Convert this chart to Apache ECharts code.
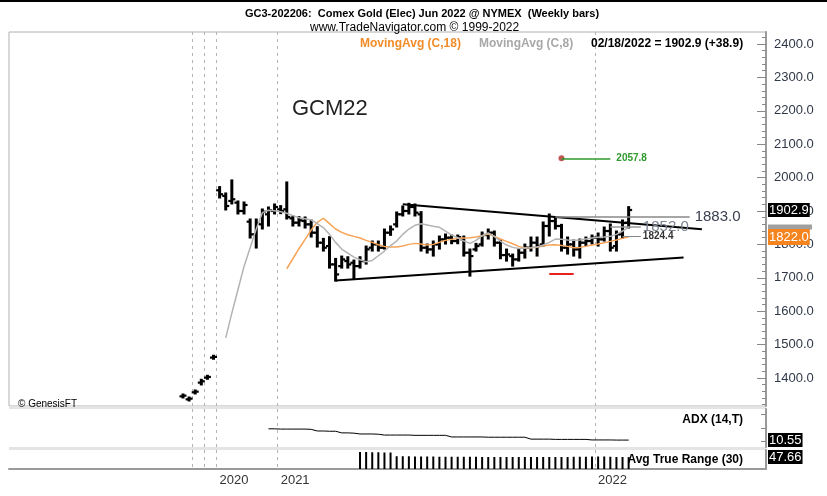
<!DOCTYPE html>
<html>
<head>
<meta charset="utf-8">
<script src="https://cdn.jsdelivr.net/npm/echarts@6/dist/echarts.min.js"></script>
<style>
  html, body { margin: 0; padding: 0; background: #fff; }
  #chart { width: 827px; height: 496px; }
</style>
</head>
<body>
<div id="chart"></div>
<script>
// weekly bars [open, high, low, close], first bar = index 0
const bars = [
  [1345,1349,1343,1347],[1336,1340,1334,1338],[1357,1361,1355,1359],[1386,1393,1382,1390],
  [1401,1405,1399,1403],[1461,1465,1459,1463],[1962,1970,1942,1950],[1945,1951,1906,1915],
  [1930,1990,1924,1935],[1925,1927,1894,1900],[1900,1924,1894,1918],[1868,1873,1822,1830],
  [1830,1873,1792,1862],[1860,1903,1849,1898],[1890,1909,1858,1902],[1900,1918,1894,1912],
  [1905,1913,1895,1900],[1905,1984,1879,1882],[1878,1882,1858,1865],[1865,1880,1858,1872],
  [1870,1879,1852,1860],[1860,1870,1825,1835],[1835,1850,1795,1805],[1805,1815,1783,1790],
  [1795,1820,1732,1740],[1740,1755,1693,1710],[1735,1762,1732,1755],[1750,1760,1732,1740],
  [1745,1750,1698,1735],[1735,1760,1732,1750],[1750,1792,1744,1785],[1790,1807,1783,1800],
  [1800,1807,1783,1790],[1790,1843,1789,1835],[1835,1852,1830,1845],[1860,1894,1855,1890],
  [1890,1912,1888,1900],[1900,1920,1894,1912],[1912,1918,1888,1895],[1890,1895,1783,1790],
  [1790,1798,1777,1785],[1785,1807,1768,1800],[1800,1822,1789,1815],[1815,1828,1804,1820],
  [1820,1825,1805,1810],[1810,1825,1805,1822],[1815,1822,1768,1775],[1775,1783,1708,1765],
  [1785,1800,1783,1795],[1800,1834,1798,1828],[1828,1843,1819,1835],[1835,1837,1798,1805],
  [1805,1810,1760,1768],[1768,1783,1753,1770],[1765,1768,1738,1755],[1755,1783,1753,1775],
  [1775,1798,1762,1790],[1790,1819,1783,1805],[1805,1819,1768,1795],[1800,1864,1798,1855],
  [1855,1888,1828,1870],[1870,1879,1849,1855],[1855,1857,1783,1790],[1790,1819,1774,1800],
  [1800,1810,1768,1785],[1785,1813,1762,1805],[1805,1819,1800,1810],[1810,1825,1804,1820],
  [1820,1831,1798,1815],[1815,1849,1813,1840],[1840,1858,1783,1790],[1795,1837,1783,1830],
  [1830,1870,1822,1864],[1865,1910,1852,1902.9]
];

const ma18Start = 17;
const ma18 = [
  1727,1757,1787,1815,1843,1866,1878,1862,1846,1836,
  1829,1824,1819,1812,1806,1799,1794,1792,1792,1795,
  1800,1803,1801,1798,1800,1806,1812,1815,1818,1819,
  1820,1822,1826,1831,1824,1816,1809,1802,1794,1789,
  1790,1792,1795,1798,1799,1797,1794,1790,1791,1794,
  1798,1801,1805,1809,1813,1818,1822
];

const ma8Start = 7;
const ma8 = [
  1520,1594,1664,1734,1790,1846,1895,1902,1901,1898,
  1893,1886,1880,1877,1873,1862,1850,1830,1806,1786,
  1774,1762,1754,1748,1752,1766,1780,1796,1810,1830,
  1846,1857,1862,1858,1854,1851,1840,1828,1820,1810,
  1803,1812,1826,1834,1824,1810,1798,1791,1788,1789,
  1790,1792,1798,1806,1816,1815,1813,1812,1813,1816,
  1819,1821,1822,1824,1830,1840,1852
];

const adxStart = 14;
const adx = [
  14.7,14.7,14.6,14.6,14.6,14.6,14.6,14.5,
  13.9,13.9,13.8,13.8,
  13.2,13.2,13.1,
  12.8,12.8,12.8,12.7,
  12.4,12.4,12.4,12.4,12.4,12.3,12.3,12.3,12.3,12.3,12.3,
  11.7,11.7,11.7,11.7,11.7,11.7,11.6,11.6,11.6,11.6,11.6,11.6,11.6,
  10.9,10.9,10.9,10.9,10.8,10.8,10.8,10.8,10.8,10.8,
  10.6,10.6,10.6,10.6,10.55,10.55,10.55
];

const atrStart = 29;
const atr = [
  68,68,67,67,66,66,
  51,51,51,50,50,50,50,49,49,49,
  49,49,49,49,48,48,48,48,48,48,
  48,48,48,48,48,48,48,48,48,49,
  49,49,50,50,50,49,48,48,47.66
];

// trend lines / levels: [barIndex, price]
const upperTrend = [[36,1920],[85,1845]];
const lowerTrend = [[25,1692],[82,1761]];
const level1883 = [[61,1883],[83,1883]];
const level1852 = [[70,1852],[75,1852]];
const level1824 = [[72,1824.4],[75,1824.4]];
const target2057 = [[62,2057.8],[70,2057.8]];
const redMark = [[60,1713],[64,1713]];

const yearLabels = [[6,'2020'],[16,'2021'],[68,'2022']];
const yearLines = [2,4,6,16,68];
const priceLabels = [1400,1500,1600,1700,1800,1900,2000,2100,2200,2300,2400];
const minorTicks = [];
for (let v = 1320; v <= 2420; v += 20) minorTicks.push(v);

const PAD = 28, NCAT = 124;
const FONT = 'Liberation Sans, Arial, sans-serif';

const cats = [];
for (let i = 0; i < NCAT; i++) cats.push(String(i - PAD));
const yearMap = {};
yearLabels.forEach(d => { yearMap[d[0] + PAD] = d[1]; });
const lineSet = yearLines.map(i => i + PAD);

const shift = pts => pts.map(p => [p[0] + PAD, p[1]]);
const fromStart = (start, arr) => arr.map((v, i) => [start + i + PAD, v]);

function renderBar(params, api) {
  const x = api.value(0);
  const o = api.coord([x, api.value(1)]);
  const h = api.coord([x, api.value(2)]);
  const l = api.coord([x, api.value(3)]);
  const c = api.coord([x, api.value(4)]);
  const tick = { stroke: '#000', lineWidth: 2.2 };
  return {
    type: 'group',
    children: [
      { type: 'line', shape: { x1: h[0], y1: h[1] - 1.5, x2: l[0], y2: l[1] + 1.5 }, style: { stroke: '#000', lineWidth: 3 } },
      { type: 'line', shape: { x1: o[0] - 3.5, y1: o[1], x2: o[0], y2: o[1] }, style: tick },
      { type: 'line', shape: { x1: c[0], y1: c[1], x2: c[0] + 3.5, y2: c[1] }, style: tick }
    ]
  };
}

function xAxisFor(g) {
  return {
    type: 'category', gridIndex: g, data: cats, boundaryGap: true,
    axisLine: { show: g === 2, lineStyle: { color: '#9a9a9a', width: 2 } },
    axisTick: { show: false },
    axisLabel: {
      show: g === 2,
      interval: (i) => yearMap[i] !== undefined,
      formatter: (v, i) => yearMap[i] || '',
      align: 'left', color: '#333', fontSize: 13, fontFamily: FONT, margin: 5
    },
    splitLine: {
      show: true,
      interval: (i) => lineSet.indexOf(i) >= 0,
      lineStyle: { color: '#b4b4b4', type: [3, 4], width: 1 }
    }
  };
}

const hiddenLine = { color: 'rgba(0,0,0,0)', width: 1 };

function boxLabel(text, bg, color) {
  return {
    show: true, position: 'end', distance: 2, formatter: text,
    backgroundColor: bg, color: color, fontSize: 13, fontFamily: FONT,
    padding: [1, 1, 0, 1]
  };
}

let options = {
  animation: false,
  backgroundColor: '#fff',
  title: [
    { text: 'GC3-202206:  Comex Gold (Elec) Jun 2022 @ NYMEX  (Weekly bars)', left: 240, top: 3,
      textStyle: { fontSize: 11, fontWeight: 'bold', color: '#000', fontFamily: FONT } },
    { text: 'www.TradeNavigator.com \u00a9 1999-2022', left: 305, top: 17,
      textStyle: { fontSize: 12, fontWeight: 'normal', color: '#000', fontFamily: FONT } },
    { text: 'MovingAvg (C,18)', left: 355, top: 33,
      textStyle: { fontSize: 12, fontWeight: 'bold', color: '#f28c28', fontFamily: FONT } },
    { text: 'MovingAvg (C,8)', left: 474, top: 33,
      textStyle: { fontSize: 12, fontWeight: 'bold', color: '#a8a8a8', fontFamily: FONT } },
    { text: '02/18/2022 = 1902.9 (+38.9)', left: 586, top: 33,
      textStyle: { fontSize: 12, fontWeight: 'bold', color: '#000', fontFamily: FONT } },
    { text: 'GCM22', left: 287, top: 93,
      textStyle: { fontSize: 22, fontWeight: 'normal', color: '#222', fontFamily: FONT } },
    { text: '\u00a9 GenesisFT', left: 13, top: 394,
      textStyle: { fontSize: 10, fontWeight: 'normal', color: '#000', fontFamily: FONT } },
    { text: 'ADX (14,T)', right: 79, top: 409,
      textStyle: { fontSize: 12, fontWeight: 'bold', color: '#000', fontFamily: FONT } },
    { text: 'Avg True Range (30)', right: 79, top: 449,
      textStyle: { fontSize: 12, fontWeight: 'bold', color: '#000', fontFamily: FONT } }
  ],
  graphic: [
    { type: 'rect', left: 0, top: 0, shape: { width: 827, height: 2 }, style: { fill: '#000' } },
    { type: 'rect', left: 9, top: 406, shape: { width: 757, height: 3 }, style: { fill: '#e4e4e4' } },
    { type: 'rect', left: 9, top: 447, shape: { width: 757, height: 3 }, style: { fill: '#e4e4e4' } }
  ],
  grid: [
    { left: 9, top: 32, width: 757, height: 374, show: true, borderColor: '#b0b0b0', borderWidth: 1 },
    { left: 9, top: 409, width: 757, height: 38, show: true, borderColor: '#d0d0d0', borderWidth: 0 },
    { left: 9, top: 450, width: 757, height: 19, show: true, borderColor: '#d0d0d0', borderWidth: 0 }
  ],
  xAxis: [xAxisFor(0), xAxisFor(1), xAxisFor(2)],
  yAxis: [
    {
      type: 'value', gridIndex: 0, position: 'right', min: 1316, max: 2436,
      axisLine: { show: true, lineStyle: { color: '#9a9a9a', width: 2 } },
      axisTick: { show: true, inside: true, length: 9, customValues: priceLabels, lineStyle: { color: '#888' } },
      axisLabel: { customValues: priceLabels, formatter: v => v.toFixed(1), color: '#2f3848',
                   fontSize: 13, fontFamily: FONT, margin: 8 },
      splitLine: { show: false }
    },
    {
      type: 'value', gridIndex: 0, position: 'right', min: 1316, max: 2436,
      axisLine: { show: false },
      axisTick: { show: true, inside: true, length: 4, customValues: minorTicks, lineStyle: { color: '#888' } },
      axisLabel: { show: false },
      splitLine: { show: false }
    },
    {
      type: 'value', gridIndex: 1, position: 'right', min: 8, max: 22,
      axisLine: { show: true, lineStyle: { color: '#9a9a9a', width: 2 } },
      axisTick: { show: true, inside: true, length: 5, customValues: [10, 15, 20], lineStyle: { color: '#888' } },
      axisLabel: { show: false },
      splitLine: { show: false }
    },
    {
      type: 'value', gridIndex: 2, position: 'right', min: 0, max: 76,
      axisLine: { show: true, lineStyle: { color: '#9a9a9a', width: 2 } },
      axisTick: { show: false },
      axisLabel: { show: false },
      splitLine: { show: false }
    }
  ],
  series: [
    {
      name: 'MovingAvg (C,18)', type: 'line', xAxisIndex: 0, yAxisIndex: 0,
      data: fromStart(ma18Start, ma18), showSymbol: false, symbol: 'none',
      lineStyle: { color: '#f7a458', width: 1.5 },
      markLine: {
        silent: true, symbol: 'none', lineStyle: hiddenLine,
        data: [
          { yAxis: 1852, label: { show: true, position: 'end', distance: 2, formatter: ' ',
              backgroundColor: '#a0a0a0', width: 44, height: 5, lineHeight: 5, fontSize: 4, padding: 0 } },
          { yAxis: 1822, label: Object.assign(boxLabel('1822.0', '#f5841f', '#fff'), { padding: [2, 1, 1, 1] }) }
        ]
      }
    },
    {
      name: 'MovingAvg (C,8)', type: 'line', xAxisIndex: 0, yAxisIndex: 0,
      data: fromStart(ma8Start, ma8), showSymbol: false, symbol: 'none',
      lineStyle: { color: '#b3b3b3', width: 1.5 }
    },
    {
      name: 'bars', type: 'custom', xAxisIndex: 0, yAxisIndex: 0,
      renderItem: renderBar,
      encode: { x: 0, y: [1, 2, 3, 4] },
      data: bars.map((b, i) => [i + PAD, b[0], b[1], b[2], b[3]])
    },
    {
      name: 'upper', type: 'line', xAxisIndex: 0, yAxisIndex: 0, data: shift(upperTrend),
      symbol: 'none', lineStyle: { color: '#000', width: 2 },
      markLine: {
        silent: true, symbol: 'none', lineStyle: hiddenLine,
        data: [{ yAxis: 1902.9, label: boxLabel('1902.9', '#000', '#fff') }]
      }
    },
    {
      name: 'lower', type: 'line', xAxisIndex: 0, yAxisIndex: 0, data: shift(lowerTrend),
      symbol: 'none', lineStyle: { color: '#000', width: 2 },
      markLine: {
        silent: true, symbol: 'none',
        data: [
          [{ coord: shift(level1883)[0], lineStyle: { color: '#888', width: 1.5, type: 'solid' },
             label: { show: true, position: 'end', formatter: '1883.0', fontSize: 15, color: '#3a4050', fontFamily: FONT } },
           { coord: shift(level1883)[1] }],
          [{ coord: shift(level1852)[0], lineStyle: { color: '#999', width: 1.5, type: 'solid' },
             label: { show: true, position: 'end', distance: 2, formatter: '1852.0', fontSize: 15, color: '#7a8090', fontFamily: FONT } },
           { coord: shift(level1852)[1] }],
          [{ coord: shift(level1824)[0], lineStyle: { color: '#888', width: 1, type: 'solid' },
             label: { show: true, position: 'end', distance: 2, formatter: '1824.4', fontSize: 10, fontWeight: 'bold', color: '#333', fontFamily: FONT } },
           { coord: shift(level1824)[1] }],
          [{ coord: shift(target2057)[0], lineStyle: { color: '#2e9a2e', width: 1.5, type: 'solid' },
             label: { show: true, position: 'end', distance: 6, formatter: '2057.8', fontSize: 10, fontWeight: 'bold', color: '#2e9a2e', fontFamily: FONT } },
           { coord: shift(target2057)[1] }],
          [{ coord: shift(redMark)[0], lineStyle: { color: '#e8231e', width: 2, type: 'solid' }, label: { show: false } },
           { coord: shift(redMark)[1] }]
        ]
      }
    },
    {
      name: 'target', type: 'scatter', xAxisIndex: 0, yAxisIndex: 0,
      data: [shift(target2057)[0]], symbolSize: 6, itemStyle: { color: '#b0302a' }
    },
    {
      name: 'ADX', type: 'line', xAxisIndex: 1, yAxisIndex: 2,
      data: fromStart(adxStart, adx), symbol: 'none',
      lineStyle: { color: '#000', width: 1 },
      markLine: {
        silent: true, symbol: 'none', lineStyle: hiddenLine,
        data: [{ yAxis: 10.55, label: boxLabel('10.55', '#000', '#fff') }]
      }
    },
    {
      name: 'ATR', type: 'bar', xAxisIndex: 2, yAxisIndex: 3,
      data: fromStart(atrStart, atr), barWidth: 2,
      itemStyle: { color: '#000' },
      markLine: {
        silent: true, symbol: 'none', lineStyle: hiddenLine,
        data: [{ yAxis: 47.66, label: boxLabel('47.66', '#000', '#fff') }]
      }
    }
  ]
};

let myChart = echarts.init(document.getElementById('chart'));
myChart.setOption(options);
</script>
</body>
</html>
